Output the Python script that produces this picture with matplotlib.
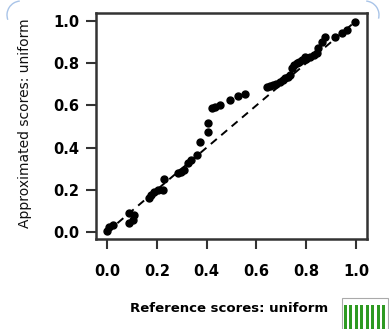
import numpy as np
import matplotlib
matplotlib.use("Agg")
import matplotlib.pyplot as plt
from matplotlib.patches import Arc, Rectangle
from matplotlib.transforms import IdentityTransform

# Scores
ref_scores = [0.000, 0.009, 0.023, 0.090, 0.103, 0.090, 0.110, 0.170, 0.177, 0.190,
              0.204, 0.224, 0.230, 0.284, 0.297, 0.310, 0.324, 0.337, 0.360, 0.373,
              0.407, 0.407, 0.420, 0.434, 0.454, 0.494, 0.527, 0.554, 0.641, 0.655,
              0.668, 0.680, 0.695, 0.705, 0.715, 0.725, 0.735, 0.742, 0.750, 0.762,
              0.770, 0.782, 0.795, 0.800, 0.815, 0.830, 0.842, 0.849, 0.862, 0.876,
              0.916, 0.942, 0.962, 0.996]
approx_scores = [0.005, 0.022, 0.033, 0.041, 0.057, 0.091, 0.081, 0.160, 0.175, 0.191,
                 0.199, 0.199, 0.250, 0.278, 0.286, 0.294, 0.326, 0.341, 0.365, 0.425,
                 0.472, 0.518, 0.586, 0.594, 0.602, 0.626, 0.645, 0.654, 0.686, 0.690,
                 0.697, 0.700, 0.710, 0.720, 0.728, 0.735, 0.744, 0.776, 0.790, 0.800,
                 0.805, 0.815, 0.831, 0.820, 0.831, 0.840, 0.847, 0.871, 0.902, 0.926,
                 0.926, 0.941, 0.957, 0.997]
ticks = [0.0, 0.2, 0.4, 0.6, 0.8, 1.0]
tick_labels = ["0.0", "0.2", "0.4", "0.6", "0.8", "1.0"]

W, H = 389, 329
fig = plt.figure(figsize=(W / 100, H / 100), dpi=100)
ax = fig.add_axes([96 / W, 90 / H, 271 / W, 226 / H])

# reference diagonal
ax.plot([0, 1], [0, 1], color="black", lw=1.4, dashes=(4, 3))
ax.plot(ref_scores, approx_scores, "o", color="black", ms=5, mec="black")

ax.set_xlim(-0.0442, 1.0442)
ax.set_ylim(-0.0332, 1.0379)
ax.set_xticks(ticks)
ax.set_yticks(ticks)
ax.set_xticklabels(tick_labels, fontsize=10.5, fontweight="bold")
ax.set_yticklabels(tick_labels, fontsize=10.5, fontweight="bold")
ax.tick_params(direction="out", length=7, width=1.5, color="#333333")
ax.tick_params(axis="x", pad=11)
ax.tick_params(axis="y", pad=5)
for s in ax.spines.values():
    s.set_linewidth(1.8)
    s.set_color("#333333")

fig.text(25 / W, 1 - 123 / H, "Approximated scores: uniform", rotation=90,
         ha="center", va="center", fontsize=10, color="#111111")
fig.text(328 / W, 1 - 308 / H, "Reference scores: uniform", ha="right",
         va="center", fontsize=9.5, fontweight="bold")

# green striped legend key
px = IdentityTransform()
fig.add_artist(Rectangle((342, H - 329), 46, 31, transform=px, facecolor="white",
                         edgecolor="#aaaaaa", lw=0.8))
for sx in np.linspace(344, 382, 8):
    fig.add_artist(Rectangle((sx, H - 329), 3, 24, transform=px,
                             facecolor="#2e9a22", edgecolor="none"))

# light blue rounded frame corners
fig.add_artist(Arc((21, H - 15), 28, 28, theta1=95, theta2=200, transform=px,
                   color="#a9c4e8", lw=1))
fig.add_artist(Arc((365, H - 15), 28, 28, theta1=-15, theta2=85, transform=px,
                   color="#a9c4e8", lw=1))

fig.savefig("out.png", dpi=100)
